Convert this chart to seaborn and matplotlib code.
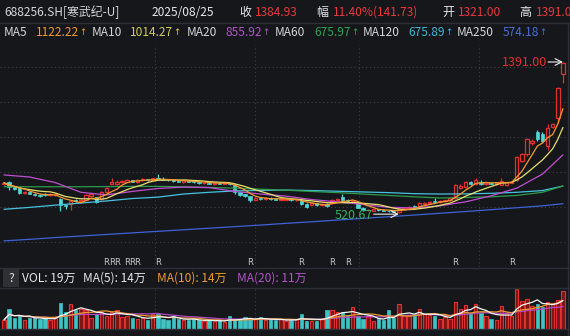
import numpy as np
import pandas as pd
import matplotlib
matplotlib.use("Agg")
import matplotlib.pyplot as plt
import seaborn as sns

sns.set_theme(style="dark")
plt.rcParams["font.family"] = ["Noto Sans CJK SC", "DejaVu Sans"]

# ---------------- data ----------------
opens = [688, 700, 668, 662, 634, 640, 632, 624, 628, 624,
         626, 600, 568, 575, 595, 588, 598, 620, 610, 600,
         640, 690, 688, 698, 702, 708, 700, 708, 714, 712,
         724, 718, 712, 708, 704, 700, 706, 704, 698, 692,
         694, 688, 694, 689, 692, 684, 640, 628, 616, 598,
         604, 600, 606, 602, 598, 598, 600, 594, 596, 572,
         568, 576, 566, 572, 578, 596, 610, 596, 584, 582,
         552, 536, 535, 542, 538, 535, 532, 526, 545, 550,
         562, 562, 572, 580, 590, 584, 588, 594, 607, 665,
         672, 698, 686, 702, 688, 694, 688, 684, 682, 696,
         712, 820, 860, 925, 985, 975, 905, 1018, 1068, 1321]
closes = [695, 668, 660, 636, 640, 632, 624, 618, 624, 630,
          628, 565, 560, 590, 588, 598, 625, 628, 585, 640,
          665, 700, 698, 704, 710, 702, 712, 716, 710, 720,
          718, 712, 708, 705, 702, 708, 702, 698, 694, 696,
          690, 694, 690, 695, 686, 642, 626, 618, 598, 606,
          602, 608, 602, 598, 600, 602, 594, 596, 572, 558,
          578, 566, 572, 562, 596, 603, 598, 590, 592, 552,
          536, 540, 545, 538, 534, 530, 528, 545, 552, 555,
          550, 578, 580, 584, 585, 590, 595, 605, 682, 676,
          702, 688, 712, 690, 692, 690, 694, 705, 698, 700,
          845, 860, 945, 935, 945, 935, 1012, 1036, 1243.2, 1384.93]
highs = [702, 706, 672, 666, 645, 644, 636, 628, 636, 634,
         632, 605, 572, 593, 600, 600, 630, 632, 615, 645,
         672, 722, 708, 708, 714, 712, 716, 720, 718, 724,
         745, 730, 716, 712, 708, 712, 710, 708, 702, 700,
         698, 698, 698, 699, 696, 686, 644, 632, 620, 610,
         608, 612, 610, 606, 604, 606, 604, 600, 600, 576,
         582, 580, 576, 576, 600, 608, 630, 600, 596, 584,
         556, 545, 548, 546, 542, 538, 536, 550, 556, 560,
         566, 582, 584, 588, 605, 594, 598, 608, 690, 690,
         706, 704, 722, 712, 696, 698, 698, 724, 702, 706,
         850, 866, 955, 945, 998, 990, 1035, 1042, 1248, 1391]
lows = [684, 655, 655, 628, 628, 628, 618, 612, 620, 620,
        620, 530, 545, 540, 584, 585, 596, 615, 580, 596,
        636, 686, 682, 694, 698, 698, 696, 704, 706, 708,
        714, 708, 704, 700, 698, 696, 698, 694, 690, 688,
        686, 684, 686, 685, 682, 632, 616, 612, 586, 594,
        598, 596, 598, 594, 594, 594, 590, 590, 566, 552,
        564, 562, 562, 558, 574, 592, 594, 586, 580, 548,
        530, 532, 530, 534, 530, 526, 524, 520.67, 541, 546,
        546, 558, 568, 576, 580, 580, 584, 590, 600, 660,
        666, 680, 680, 684, 684, 686, 684, 680, 676, 692,
        706, 812, 852, 915, 938, 926, 885, 1012, 1040, 1270]
volumes = [4.5, 10, 5.3, 7, 4.5, 5.5, 5.5, 4.8, 5.5, 4.3,
           5.5, 12.8, 8.3, 12.2, 9.2, 10, 9.3, 5.5, 7.5, 8.3,
           6.3, 8.3, 9.2, 6, 6.3, 5.5, 5, 5.5, 4.3, 7.5,
           7.5, 4.8, 4.3, 6.3, 5, 4.3, 4.3, 4.8, 4.3, 3.8,
           4.3, 3.8, 4.3, 3.7, 6.3, 4.3, 4.8, 6, 4.8, 4.8,
           5.8, 4.3, 4.8, 4.3, 4.8, 4, 4.5, 5, 7.2, 4,
           3.8, 4, 5, 9.2, 9.5, 8.3, 8.3, 6.2, 10.8, 6.2,
           5, 6.2, 3.8, 5, 4.5, 9.2, 5.5, 12.2, 6.7, 6.2,
           6.2, 10, 7.5, 6.7, 6.2, 5, 5.8, 5, 13.3, 10,
           12, 7.7, 12.5, 7.7, 6.2, 5, 4.5, 11.2, 7.7, 6.2,
           20, 13.8, 15, 11.2, 12.2, 10.8, 13.3, 12.8, 14.2, 19]

ma_idx = [0, 5, 10, 15, 20, 25, 30, 35, 40, 45, 50, 55, 60, 65, 70, 75,
          80, 85, 90, 95, 100, 105, 109]
ma20 = [740, 728, 696, 640, 625, 645, 662, 670, 667, 645, 630, 618,
        598, 585, 570, 553, 550, 562, 585, 620, 664, 745, 855.92]
ma60 = [672, 672, 672, 672, 673, 674, 674, 672, 668, 664, 658, 652,
        645, 638, 630, 622, 614, 607, 610, 614, 622, 640, 675.97]
ma120 = [542, 553, 566, 578, 590, 604, 612, 630, 640, 648, 651, 653,
         650, 646, 642, 638, 632, 630, 631, 634, 640, 650, 675.89]
ma250 = [360, 369, 379, 388, 397, 406, 415, 424, 433, 442, 451, 461,
         470, 480, 490, 499, 509, 519, 529, 540, 551, 562, 574.18]

r_marks = [20, 21, 22, 24, 25, 26, 30, 48, 58, 64, 67, 88, 99]
month_lines = [29.5, 49, 69.3, 92.6]
grid_prices = [1362, 1160.5, 958.7, 757, 555.3, 353.6]

title_parts = [("688256.SH[寒武纪-U]", 4, "#d6d6d6"), ("2025/08/25", 152, "#e8e8e8"),
               ("收", 239, "#e8e8e8"), ("1384.93", 255, "#e8393b"),
               ("幅", 316, "#e8e8e8"), ("11.40%(141.73)", 333, "#e8393b"),
               ("开", 442, "#e8e8e8"), ("1321.00", 458, "#e8393b"),
               ("高", 519, "#e8e8e8"), ("1391.00", 536, "#e8393b")]
ma_parts = [("MA5", 4, "#d6d6d6"), ("1122.22", 36, "#f09a30"),
            ("MA10", 92, "#d6d6d6"), ("1014.27", 130, "#cfcf55"),
            ("MA20", 187, "#d6d6d6"), ("855.92", 225, "#b354c8"),
            ("MA60", 275, "#d6d6d6"), ("675.97", 314, "#2fa350"),
            ("MA120", 363, "#d6d6d6"), ("675.89", 408, "#3db6d6"),
            ("MA250", 457, "#d6d6d6"), ("574.18", 503, "#4a6fd8")]
vol_parts = [("VOL: 19万", 22, "#e8e8e8"), ("MA(5): 14万", 83, "#e8e8e8"),
             ("MA(10): 14万", 157, "#f09a30"), ("MA(20): 11万", 237, "#b354c8")]

# ---------------- styling ----------------
BG = "#15171b"
RED = "#e0302f"
CYAN = "#4fd6d6"
GRID = "#3d4047"
SEP = "#2c2f35"
W, H = 570, 336
FS = 8.6

df = pd.DataFrame({"i": np.arange(len(closes)), "open": opens, "close": closes,
                   "high": highs, "low": lows, "vol": volumes})
df["ma5"] = df["close"].rolling(5, min_periods=1).mean()
df["ma10"] = df["close"].rolling(10, min_periods=1).mean()
df["vma5"] = df["vol"].rolling(5, min_periods=1).mean()
df["vma10"] = df["vol"].rolling(10, min_periods=1).mean()
df["vma20"] = df["vol"].rolling(20, min_periods=1).mean()
ma_df = pd.DataFrame({"i": ma_idx, "ma20": ma20, "ma60": ma60,
                      "ma120": ma120, "ma250": ma250})

fig = plt.figure(figsize=(W / 100, H / 100), dpi=100, facecolor=BG)
renderer = fig.canvas.get_renderer()


def fx(px):
    return px / W


def fy(py):
    return 1 - py / H


ax = fig.add_axes([0, fy(267), 567 / W, (267 - 45) / H])
axv = fig.add_axes([0, fy(329), 567 / W, (329 - 288) / H])
XL = (-0.78, 109.79)
for a in (ax, axv):
    a.set_facecolor(BG)
    a.set_xlim(*XL)
    for s in a.spines.values():
        s.set_visible(False)
    a.set_xticks([])
    a.set_yticks([])
ax.set_ylim(209.4, 1489)
axv.set_ylim(0, 20.3)

# grid
for gp in grid_prices:
    ax.axhline(gp, color=GRID, lw=0.8, ls=(0, (1, 2.5)), zorder=0)
for ml in month_lines:
    ax.axvline(ml, color=GRID, lw=0.8, ls=(0, (1, 2.5)), zorder=0)
    axv.axvline(ml, color=GRID, lw=0.8, ls=(0, (1, 2.5)), zorder=0)

# candles
up = df["close"] >= df["open"]
colors = np.where(up, RED, CYAN)
ax.vlines(df["i"], df["low"], df["high"], colors=colors, lw=0.9, zorder=3)
body_bottom = np.minimum(df["open"], df["close"])
body_h = np.maximum(np.abs(df["close"] - df["open"]), 3.5)
ax.bar(df["i"][up], body_h[up], bottom=body_bottom[up], width=0.66,
       facecolor=BG, edgecolor=RED, linewidth=0.9, zorder=4)
ax.bar(df["i"][~up], body_h[~up], bottom=body_bottom[~up], width=0.66,
       facecolor=CYAN, edgecolor=CYAN, linewidth=0.5, zorder=4)

# moving averages
line_specs = [("ma250", "#3f62d6"), ("ma120", "#46c2df"), ("ma60", "#2e9a4a"),
              ("ma20", "#c04fd0"), ("ma10", "#e6e070"), ("ma5", "#f39a30")]
for col, c in line_specs:
    src = ma_df if col in ma_df.columns else df
    sns.lineplot(data=src, x="i", y=col, ax=ax, color=c, lw=0.9,
                 legend=False, zorder=5)

# annotations
ax.annotate("", xy=(109, 1391), xytext=(106.1, 1391),
            arrowprops=dict(arrowstyle="->", color="#f0f0f0", lw=0.8,
                            shrinkA=0, shrinkB=0), zorder=6)
ax.text(106.0, 1391, "1391.00", color=RED, fontsize=9, ha="right",
        va="center", zorder=6)
ax.annotate("", xy=(77, 514), xytext=(72.1, 514),
            arrowprops=dict(arrowstyle="->", color="#f0f0f0", lw=0.8,
                            shrinkA=0, shrinkB=0), zorder=6)
ax.text(72.0, 509, "520.67", color="#35b35a", fontsize=9, ha="right",
        va="center", zorder=6)

for r in r_marks:
    ax.text(r, 238, "R", color="#c8c8c8", fontsize=6, ha="center",
            va="center", family=["DejaVu Sans"])

# volume
axv.bar(df["i"][up], df["vol"][up], width=0.66, facecolor="#7a1616",
        edgecolor=RED, linewidth=0.8, zorder=3)
axv.bar(df["i"][~up], df["vol"][~up], width=0.66, facecolor="#3fc4c4",
        edgecolor="#3fc4c4", linewidth=0.5, zorder=3)
for col, c in [("vma20", "#b348c8"), ("vma10", "#f09a30"), ("vma5", "#f4f4f4")]:
    sns.lineplot(data=df, x="i", y=col, ax=axv, color=c, lw=0.9,
                 legend=False, zorder=4)
for a in (ax, axv):
    a.set_xlabel("")
    a.set_ylabel("")
    a.set_xlim(*XL)

# separators and frame lines
for py in (22.5, 267.5, 288, 329):
    fig.add_artist(plt.Line2D([0, 1], [fy(py), fy(py)], color=SEP, lw=1))
fig.add_artist(plt.Line2D([fx(567.5), fx(567.5)], [fy(336), fy(22.5)],
                          color=SEP, lw=1))

# header texts
for txt, x, c in title_parts:
    fig.text(fx(x), fy(12.5), txt, color=c, fontsize=FS, ha="left", va="center")
for txt, x, c in ma_parts:
    t = fig.text(fx(x), fy(33), txt, color=c, fontsize=FS, ha="left", va="center")
    if not txt.startswith("MA"):
        bb = t.get_window_extent(renderer)
        fig.text((bb.x1 + 0.3) / W, fy(32.5), "↑", color=c, fontsize=6.3,
                 ha="left", va="center", family=["DejaVu Sans"])
fig.patches.append(plt.Rectangle((fx(3), fy(287)), fx(16), 18 / H,
                                 transform=fig.transFigure, facecolor="#2e3036",
                                 edgecolor="none"))
fig.text(fx(11), fy(278.5), "?", color="#e0e0e0", fontsize=FS, ha="center",
         va="center")
for txt, x, c in vol_parts:
    fig.text(fx(x), fy(278.5), txt, color=c, fontsize=FS, ha="left", va="center")

fig.savefig("out.png", dpi=100, facecolor=BG)
